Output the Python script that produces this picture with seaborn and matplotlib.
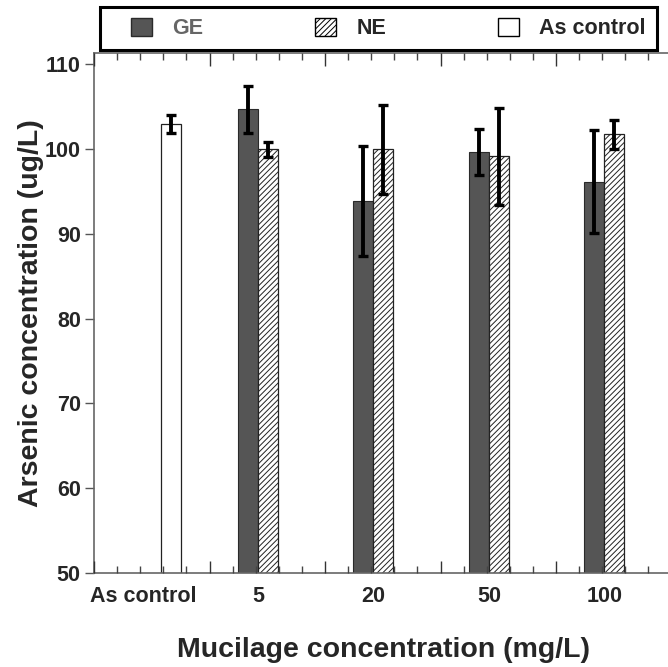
import numpy as np
import pandas as pd
import matplotlib
matplotlib.use("Agg")
import matplotlib.pyplot as plt
from matplotlib.ticker import MultipleLocator, NullFormatter
from matplotlib.patches import Patch, Rectangle
import seaborn as sns

categories = ["5", "20", "50", "100"]
ge_mean = [104.65, 93.85, 99.6, 96.15]
ge_sd = [2.75, 6.45, 2.7, 6.05]
ne_mean = [99.95, 99.95, 99.1, 101.7]
ne_sd = [0.9, 5.25, 5.7, 1.7]
control_mean = [102.95]
control_sd = [1.1]

sns.set_style("white")
plt.rcParams["font.family"] = ["Liberation Sans", "DejaVu Sans"]
plt.rcParams["font.weight"] = "bold"
plt.rcParams["hatch.linewidth"] = 0.7

# bar positions: category k at k + 0.42, GE left / NE right of it
k = np.arange(1, len(categories) + 1)
df = pd.DataFrame({
    "pos": np.concatenate([[0.667], k + 0.333, k + 0.506]),
    "value": control_mean + ge_mean + ne_mean,
    "sd": control_sd + ge_sd + ne_sd,
    "group": ["As control"] + ["GE"] * 4 + ["NE"] * 4,
})

fig = plt.figure(figsize=(6.68, 6.67), dpi=100)
ax = fig.add_axes([94 / 668, 1 - 573 / 667, (690 - 94) / 668, (573 - 53) / 667])

sns.barplot(data=df, x="pos", y="value", hue="group", native_scale=True, dodge=False,
            width=1.0, errorbar=None, palette={"GE": "#555555", "NE": "white", "As control": "white"},
            hue_order=["GE", "NE", "As control"], legend=False, ax=ax)

for bar in ax.patches:
    fc = bar.get_facecolor()
    if fc[0] < 0.5:
        bar.set_edgecolor("#2a2a2a")
        bar.set_linewidth(0.8)
    else:
        bar.set_edgecolor("#222222")
        bar.set_linewidth(0.9)

ne_bars = [p for p in ax.patches if abs((p.get_x() + p.get_width() / 2) % 1 - 0.506) < 0.02]
for p in ne_bars:
    p.set_hatch("//////")

ax.errorbar(df["pos"], df["value"], yerr=df["sd"], fmt="none", ecolor="black",
            elinewidth=2.8, capsize=3.4, capthick=2.4, zorder=5)

ax.set_xlim(0, (690 - 94) / 115.5)
ax.set_ylim(50, 111.3)

ax.set_xticks([0.43] + list(k + 0.42))
ax.set_xticklabels(["As control"] + categories, fontsize=15.5, fontweight="bold")
ax.tick_params(axis="x", length=0, pad=9)
ax.yaxis.set_major_locator(MultipleLocator(10))
ax.tick_params(axis="y", direction="out", length=6.5, width=1, left=True, labelsize=15.5,
               color="#555555", pad=3)
for lab in ax.get_yticklabels():
    lab.set_fontweight("bold")

for side in ["left", "bottom", "top"]:
    ax.spines[side].set_color("#666666")
    ax.spines[side].set_linewidth(1.2)
ax.spines["right"].set_visible(False)

# tick marks along top and bottom
ax2 = ax.twiny()
ax2.set_xlim(ax.get_xlim())
ax2.xaxis.set_major_locator(MultipleLocator(1))
ax2.xaxis.set_minor_locator(MultipleLocator(0.2))
ax2.xaxis.set_major_formatter(NullFormatter())
ax2.tick_params(axis="x", which="major", direction="in", length=9, width=1, color="#333333",
                top=True, bottom=True)
ax2.tick_params(axis="x", which="minor", direction="in", length=5, width=1, color="#444444",
                top=True, bottom=True)
for s in ax2.spines.values():
    s.set_visible(False)

ax.set_xlabel("Mucilage concentration (mg/L)", fontsize=20.5, fontweight="bold")
ax.xaxis.set_label_coords((383 - 94) / (690 - 94), -(650 - 573) / 520, transform=ax.transAxes)
ax.xaxis.label.set_va("center")
ax.set_ylabel("Arsenic concentration (ug/L)", fontsize=20.5, fontweight="bold")
ax.yaxis.set_label_coords(-(94 - 31) / (690 - 94), (573 - 313) / 520, transform=ax.transAxes)
ax.yaxis.label.set_va("center")

handles = [Patch(facecolor="#555555", edgecolor="#2a2a2a", label="GE"),
           Patch(facecolor="white", edgecolor="black", hatch="//////", label="NE"),
           Patch(facecolor="white", edgecolor="black", label="As control")]
leg = fig.legend(handles=handles, loc="center left",
                 bbox_to_anchor=(131 / 668, 1 - 28.5 / 667),
                 ncol=3, frameon=False,
                 handlelength=0.98, handleheight=0.95, handletextpad=0.93, columnspacing=5.2,
                 borderaxespad=0, borderpad=0, prop={"weight": "bold", "size": 15.5})
leg.get_texts()[0].set_color("#666666")
fig.patches.append(Rectangle((100 / 668, 1 - 50 / 667), 557 / 668, 43 / 667, fill=False,
                             edgecolor="black", linewidth=2.2, transform=fig.transFigure,
                             figure=fig))

fig.savefig("out.png", dpi=100)
